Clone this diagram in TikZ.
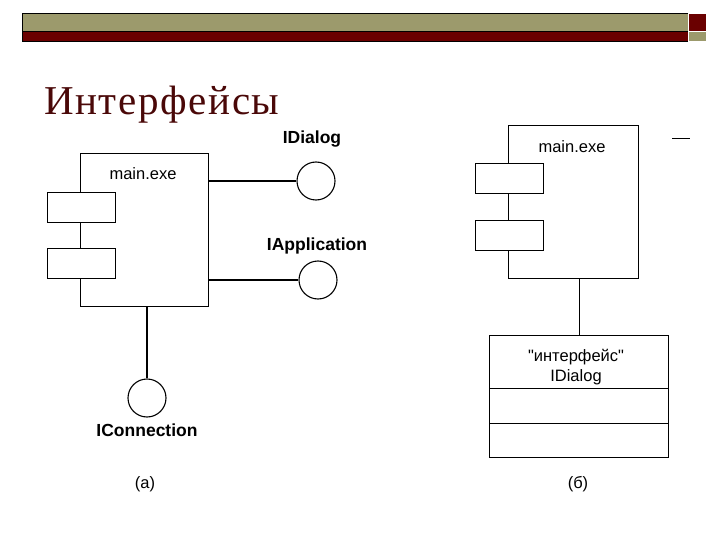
\documentclass[tikz,border=0pt]{standalone}
\usepackage{fontspec}
\setmainfont{Liberation Serif}
\setsansfont{Liberation Sans}
\newfontfamily\rawsans[Ligatures=TeXOff]{Liberation Sans}
\definecolor{olivebar}{HTML}{9C9A6C}
\definecolor{redbar}{HTML}{6A0000}
\definecolor{titlered}{HTML}{4A0808}
\begin{document}
\begin{tikzpicture}[x=1pt,y=-1pt,
  comp/.style={draw, line width=1.1pt, anchor=north west, inner sep=0pt},
  port/.style={draw, line width=1.1pt, fill=white, anchor=north west, inner sep=0pt, minimum width=68pt, minimum height=30pt},
  iface/.style={circle, draw, line width=1.1pt, inner sep=0pt, minimum size=38pt},
  conn/.style={line width=1.1pt},
  lbl/.style={font=\sffamily\bfseries\fontsize{17.5}{20}\selectfont, inner sep=0pt},
  txt/.style={font=\rawsans\fontsize{16.5}{19}\selectfont, inner sep=0pt},
  captxt/.style={font=\sffamily\fontsize{16.5}{19}\selectfont, inner sep=0pt}]
\useasboundingbox (0,0) rectangle (720,540);
\fill[white] (0,0) rectangle (720,540);
% header bars
\draw[fill=olivebar, line width=0.8pt] (22,13) rectangle (688,31);
\draw[fill=redbar, line width=0.8pt] (22,31) rectangle (688,41);
\draw[fill=redbar, line width=0.6pt, draw=white] (688,13) rectangle (706,31);
\draw[fill=olivebar, line width=0.6pt, draw=white] (688,31) rectangle (706,41);
% title
\node[anchor=base west, inner sep=0pt, text=titlered, font=\fontsize{41}{44}\selectfont] (title) at (44,115) {\addfontfeature{LetterSpace=4}Интерфейсы};
% (a) component
\node[comp, minimum width=128pt, minimum height=153pt] (m1) at (80,153) {};
\node[txt] (m1t) at (143,174) {main.exe};
\node[port] (p1a) at (47,192) {};
\node[port] (p1b) at (47,248) {};
\node[iface] (cd) at (316,181) {};
\node[iface] (ca) at (318,280) {};
\node[iface] (cc) at (147,398) {};
\draw[conn] (cd.west -| m1.east) -- (cd.west);
\draw[conn] (ca.west -| m1.east) -- (ca.west);
\draw[conn] (cc.north |- m1.south) -- (cc.north);
\node[lbl] (ld) at (312,139) {IDialog};
\node[lbl] (la) at (317,246) {IApplication};
\node[lbl] (lc) at (147,430) {IConnection};
\node[captxt] (capa) at (145,484) {(a)};
% (б) component
\node[comp, minimum width=130pt, minimum height=153pt] (m2) at (508,125) {};
\node[txt] (m2t) at (572,147) {main.exe};
\node[port] (p2a) at (475,163) {};
\node[port] (p2b) at (475,220) {};
\node[draw, line width=1.1pt, anchor=north west, inner sep=0pt, minimum width=179pt, minimum height=53pt] (ib1) at (489,335) {};
\node[draw, line width=1.1pt, anchor=north west, inner sep=0pt, minimum width=179pt, minimum height=35pt] (ib2) at (489,388) {};
\node[draw, line width=1.1pt, anchor=north west, inner sep=0pt, minimum width=179pt, minimum height=34pt] (ib3) at (489,423) {};
\node[txt] (it1) at (576,357) {"интерфейс"};
\node[txt] (it2) at (576,377) {IDialog};
\draw[conn] (ib1.north |- m2.south) -- (ib1.north);
\node[captxt] (capb) at (578,484) {(б)};
% stray dash
\coordinate (d1) at (672,138);
\coordinate (d2) at (690,138);
\draw[line width=0.8pt] (d1) -- (d2);
\end{tikzpicture}
\end{document}
